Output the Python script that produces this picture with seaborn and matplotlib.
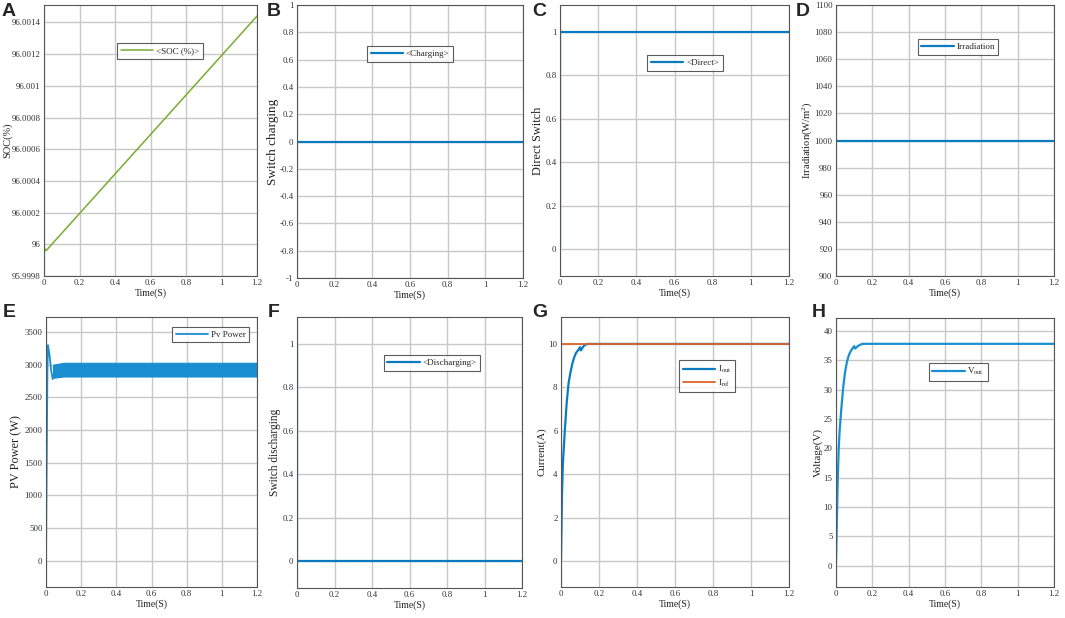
import numpy as np
import pandas as pd
import matplotlib.pyplot as plt
import seaborn as sns
from matplotlib.ticker import FuncFormatter

# values
time_ticks = [0, 0.2, 0.4, 0.6, 0.8, 1.0, 1.2]

soc_t = [0.0, 0.012, 1.2]
soc = [95.99998, 95.99996, 96.00144]

charging_t = [0.0, 1.2]
charging = [0, 0]

direct_t = [0.0, 0.0, 1.2]
direct = [0, 1, 1]

irr_t = [0.0, 1.2]
irradiation = [1000, 1000]

pv_t = [0.0, 0.004, 0.008, 0.011, 0.02, 0.03, 0.038, 0.045]
pv_power = [0, 1500, 2900, 3300, 3150, 2900, 2780, 2850]
band_t = [0.04, 0.1, 1.2]
band_hi = [3000, 3030, 3030]
band_lo = [2800, 2820, 2820]

discharging_t = [0.0, 0.0, 1.2]
discharging = [1, 0, 0]

iout_t = [0.0, 0.005, 0.01, 0.02, 0.03, 0.04, 0.05, 0.06, 0.07, 0.08,
          0.09, 0.1, 0.105, 0.115, 0.125, 0.14, 1.2]
iout = [0, 3.0, 4.5, 6.0, 7.3, 8.2, 8.7, 9.1, 9.4, 9.6,
        9.7, 9.85, 9.7, 9.85, 9.95, 10.0, 10.0]
iref_t = [0.0, 1.2]
iref = [10, 10]

vout_t = [0.0, 0.005, 0.01, 0.015, 0.02, 0.03, 0.04, 0.05, 0.06, 0.07,
          0.08, 0.09, 0.1, 0.105, 0.115, 0.13, 0.145, 1.2]
vout = [0.5, 8, 15, 20, 23, 27, 30.5, 33, 34.7, 35.8,
        36.5, 37.0, 37.4, 37.0, 37.3, 37.6, 37.8, 37.8]

BLUE = '#0a7bc1'
LIGHT_BLUE = '#1a8fd0'
GREEN = '#77ac30'
ORANGE = '#e0622a'

sns.set_theme(style='whitegrid')
plt.rcParams['font.family'] = ['Liberation Serif', 'DejaVu Serif']
plt.rcParams['mathtext.fontset'] = 'custom'
plt.rcParams['mathtext.rm'] = 'Liberation Serif'
plt.rcParams['mathtext.it'] = 'Liberation Serif:italic'

W, H = 1065, 618
fig = plt.figure(figsize=(W / 100, H / 100), dpi=100)
fig.patch.set_facecolor('white')


def make_ax(left, right, top, bottom):
    ax = fig.add_axes([left / W, 1 - bottom / H, (right - left) / W, (bottom - top) / H])
    ax.box_px = (left, right)
    return ax


def tick_fmt(v, pos):
    s = f'{v:.4f}'.rstrip('0').rstrip('.')
    return '0' if s == '-0' else s


def legend(ax, loc):
    leg = ax.legend(loc='center', bbox_to_anchor=loc, fontsize=6.5,
                    frameon=True, fancybox=False, edgecolor='#333333',
                    handlelength=3.6, borderpad=0.4, labelspacing=0.25,
                    handletextpad=0.3, borderaxespad=0)
    leg.get_frame().set_linewidth(0.8)


def style(ax, ylim, yticks, ylabel, label_x, label_fs, legend_loc):
    ax.set_facecolor('white')
    ax.set_xlim(0, 1.2)
    ax.set_ylim(*ylim)
    ax.set_xticks(time_ticks)
    ax.set_yticks(yticks)
    ax.xaxis.set_major_formatter(FuncFormatter(tick_fmt))
    ax.yaxis.set_major_formatter(FuncFormatter(tick_fmt))
    ax.grid(True, color='#c8c8c8', lw=1.0)
    ax.tick_params(direction='in', length=3, width=0.6, color='#444444',
                   labelsize=6.4, labelcolor='#333333', pad=2.5)
    for sp in ax.spines.values():
        sp.set_visible(True)
        sp.set_color('#555555')
        sp.set_linewidth(0.8)
    ax.set_xlabel('Time(S)', fontsize=7, color='#222222', labelpad=1)
    ax.set_ylabel(ylabel, fontsize=label_fs, color='#222222')
    left, right = ax.box_px
    edge = label_x + 0.45 * label_fs
    ax.yaxis.set_label_coords((edge - left) / (right - left), 0.5)
    legend(ax, legend_loc)


def line(ax, t, y, color, label=None, lw=1.6):
    sns.lineplot(x=t, y=y, ax=ax, color=color, lw=lw, estimator=None,
                 sort=False, label=label)


# A - state of charge
ax = make_ax(44, 257, 5, 276)
line(ax, soc_t, soc, GREEN, '<SOC (%)>', lw=1.1)
style(ax, (95.9998, 96.00151), np.arange(95.9998, 96.00141, 0.0002),
      'SOC(%)', 9, 7.5, (0.545, 0.83))

# B - switch charging
ax = make_ax(297, 523, 5, 278)
line(ax, charging_t, charging, BLUE, '<Charging>')
style(ax, (-1, 1), np.arange(-1, 1.01, 0.2), 'Switch charging', 275, 9.5, (0.5, 0.82))

# C - direct switch
ax = make_ax(560, 789, 5, 276)
line(ax, direct_t, direct, BLUE, '<Direct>')
style(ax, (-0.125, 1.125), np.arange(0, 1.01, 0.2), 'Direct Switch', 540, 8.8, (0.546, 0.786))

# D - irradiation
ax = make_ax(836, 1054, 5, 276)
line(ax, irr_t, irradiation, BLUE, 'Irradiation')
style(ax, (900, 1100), np.arange(900, 1101, 20), 'Irradiation(W/m$^2$)', 811, 7.6, (0.56, 0.845))

# E - PV power
ax = make_ax(46, 257, 317, 587)
ax.fill_between(band_t, band_lo, band_hi, color=LIGHT_BLUE, lw=0.8, edgecolor=LIGHT_BLUE)
line(ax, pv_t, pv_power, LIGHT_BLUE, 'Pv Power', lw=1.3)
style(ax, (-400, 3730), np.arange(0, 3501, 500), 'PV Power (W)', 18, 8.8, (0.78, 0.935))

# F - switch discharging
ax = make_ax(297, 522, 317, 588)
line(ax, discharging_t, discharging, BLUE, '<Discharging>')
style(ax, (-0.125, 1.125), np.arange(0, 1.01, 0.2), 'Switch discharging', 277, 8.3, (0.6, 0.83))

# G - current
ax = make_ax(561, 789, 317, 587)
line(ax, iout_t, iout, BLUE, 'I$_{\\mathrm{out}}$', lw=1.6)
line(ax, iref_t, iref, ORANGE, 'I$_{\\mathrm{ref}}$', lw=1.3)
style(ax, (-1.2, 11.24), np.arange(0, 10.1, 2), 'Current(A)', 543, 7.8, (0.64, 0.78))

# H - voltage
ax = make_ax(836, 1054, 318, 587)
line(ax, vout_t, vout, LIGHT_BLUE, 'V$_{\\mathrm{out}}$')
style(ax, (-3.6, 42.2), np.arange(0, 40.1, 5), 'Voltage(V)', 819, 8, (0.56, 0.80))

# panel letters
letters = [('A', 2, 3), ('B', 267, 3), ('C', 532, 3), ('D', 796, 3),
           ('E', 3, 304), ('F', 268, 304), ('G', 532, 304), ('H', 812, 304)]
for s, x, y in letters:
    fig.text(x / W, 1 - y / H, s, fontsize=14, fontweight='bold',
             family=['Liberation Sans', 'DejaVu Sans'], va='top', ha='left')

fig.savefig('out.png', dpi=100)
